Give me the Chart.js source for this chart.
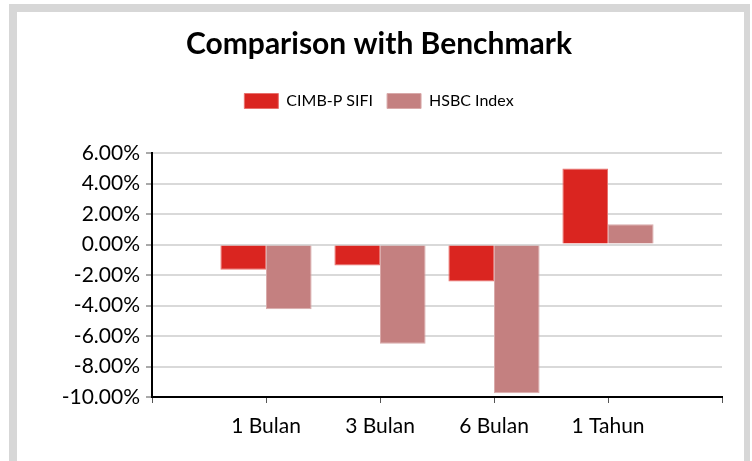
<!DOCTYPE html>
<html>
<head>
<meta charset="utf-8">
<script src="https://cdn.jsdelivr.net/npm/chart.js@4/dist/chart.umd.min.js"></script>
<style>
  html, body { margin: 0; padding: 0; background: #fff; }
  body { width: 752px; height: 461px; position: relative; overflow: hidden; }
  .frame {
    position: absolute; left: 9px; top: 4px; width: 727px; height: 480px;
    border-left: 8px solid #d7d7d7; border-top: 8px solid #d7d7d7; border-right: 6px solid #d7d7d7;
  }
  #wrap { position: absolute; left: 0; top: 0; width: 752px; height: 461px; }
</style>
</head>
<body>
<div class="frame"></div>
<div id="wrap"><canvas id="barChart" width="752" height="461"></canvas></div>
<script>
  // blank first/last slots keep the bars between the outer ticks
  const categories = ["", "1 Bulan", "3 Bulan", "6 Bulan", "1 Tahun", ""];
  const cimbValues = [null, -1.66, -1.38, -2.43, 4.98, null];
  const hsbcValues = [null, -4.24, -6.51, -9.75, 1.33, null];
  const yTicks = [6, 4, 2, 0, -2, -4, -6, -8, -10];

  const ctx = document.getElementById("barChart");

  // extra room between legend and plot
  const legendGap = {
    id: "legendGap",
    beforeInit(chart) {
      const fit = chart.legend.fit;
      chart.legend.fit = function () {
        fit.call(this);
        this.height += 34;
      };
    },
  };

  new Chart(ctx, {
    type: "bar",
    data: {
      labels: categories,
      datasets: [
        {
          label: "CIMB-P SIFI",
          data: cimbValues,
          backgroundColor: "#da2520",
          borderColor: "#e8716d",
          borderWidth: 1,
        },
        {
          label: "HSBC Index",
          data: hsbcValues,
          backgroundColor: "#c48080",
          borderColor: "#d9aaaa",
          borderWidth: 1,
        },
      ],
    },
    options: {
      responsive: false,
      animation: false,
      layout: { padding: { left: 36, right: 30, top: 0, bottom: 0 } },
      plugins: {
        title: {
          display: true,
          text: "Comparison with Benchmark",
          color: "#000",
          font: { family: "Lato", size: 30, weight: "bold" },
          padding: { top: 26, bottom: 17 },
        },
        legend: {
          labels: {
            color: "#000",
            font: { family: "Lato", size: 16 },
            boxWidth: 34,
            boxHeight: 15,
            padding: 14,
          },
        },
        tooltip: { enabled: false },
      },
      datasets: { bar: { categoryPercentage: 0.8, barPercentage: 1.0 } },
      scales: {
        x: {
          offset: false,
          grid: { offset: false, drawOnChartArea: false, drawTicks: true, tickLength: 6, color: "#555", lineWidth: 1 },
          border: { color: "#000", width: 2 },
          ticks: { color: "#000", font: { family: "Lato", size: 21 }, padding: 11, autoSkip: false, maxRotation: 0 },
          afterFit: (s) => { s.height = 64; },
        },
        y: {
          min: -10,
          max: 6,
          afterBuildTicks: (s) => { s.ticks = yTicks.map((v) => ({ value: v })); },
          grid: { color: "#d9d9d9", lineWidth: 2, tickLength: 6, tickColor: "#555", tickWidth: 1 },
          border: { color: "#000", width: 2 },
          ticks: {
            color: "#000",
            font: { family: "Lato", size: 21 },
            padding: 6,
            callback: (v) => v.toFixed(2) + "%",
          },
          afterFit: (s) => { s.width = 116; },
        },
      },
    },
    plugins: [legendGap],
  });
</script>
</body>
</html>
